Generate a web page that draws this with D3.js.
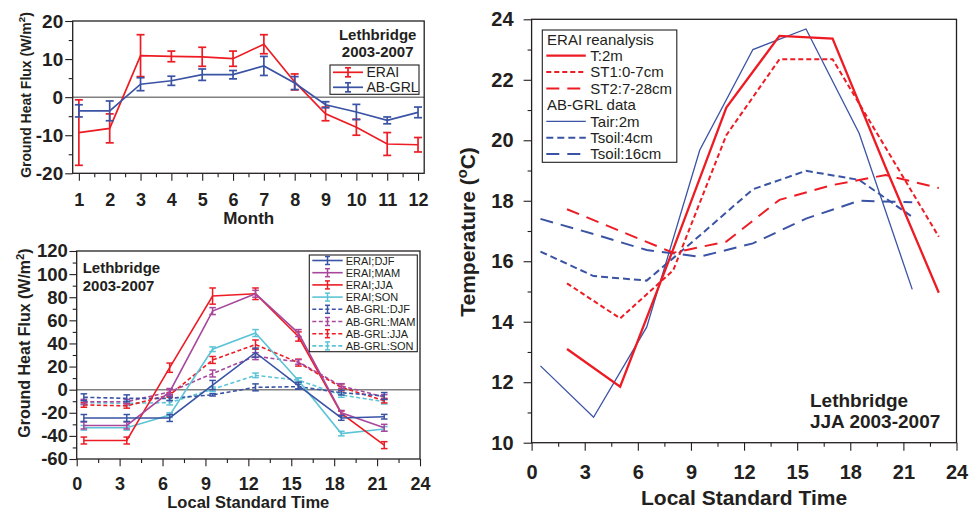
<!DOCTYPE html>
<html>
<head>
<meta charset="utf-8">
<script src="https://cdn.jsdelivr.net/npm/d3@7"></script>
<style>
    body { margin: 0; background: #fff; }
    svg { display: block; font-family: "Liberation Sans", Arial, sans-serif; }
    .axis line { stroke: #231f20; stroke-width: 1.1; }
    .axis path { display: none; }
    .axis text { font-weight: bold; fill: #231f20; font-family: "Liberation Sans", Arial, sans-serif; }
    .frame { fill: none; stroke: #231f20; stroke-width: 1.3; }
    .title { font-weight: bold; fill: #231f20; }
    .legend-box { fill: #fff; stroke: #231f20; stroke-width: 1.1; }
    .legend text { fill: #231f20; }
</style>
</head>
<body>
<svg id="chart" width="978" height="513"></svg>
<script>
// monthly ground heat flux, Lethbridge 2003-2007
var months      = [1, 2, 3, 4, 5, 6, 7, 8, 9, 10, 11, 12];
var monthMinor  = [1.5, 2.5, 3.5, 4.5, 5.5, 6.5, 7.5, 8.5, 9.5, 10.5, 11.5];
var fluxTicks   = [-20, -10, 0, 10, 20];
var fluxMinor   = [-15, -5, 5, 15];
var fluxErai    = [-9.3, -8.2, 10.9, 10.7, 10.6, 10.1, 13.9, 4.0, -4.4, -7.9, -12.3, -12.5];
var fluxEraiErr = [8.6, 3.8, 5.5, 1.4, 2.5, 2.0, 2.5, 2.1, 1.8, 2.1, 3.0, 1.9];
var fluxGrl     = [-3.6, -3.6, 3.4, 4.3, 5.9, 5.9, 8.2, 3.7, -2.0, -3.9, -6.1, -4.0];
var fluxGrlErr  = [1.6, 2.6, 1.7, 1.2, 1.5, 1.1, 2.5, 1.7, 0.8, 2.0, 0.9, 1.4];

// diurnal ground heat flux by season
var lstHours    = [0.5, 3.5, 6.5, 9.5, 12.5, 15.5, 18.5, 21.5];
var hourTicks   = [0, 3, 6, 9, 12, 15, 18, 21, 24];
var hourMinor   = [1.5, 4.5, 7.5, 10.5, 13.5, 16.5, 19.5, 22.5];
var diurnTicks  = [-60, -40, -20, 0, 20, 40, 60, 80, 100, 120];
var diurnMinor  = [-50, -30, -10, 10, 30, 50, 70, 90, 110];
var eraiDjf     = [-24.5, -24.5, -24.5, 4, 32, 3.5, -24.5, -23.4];
var eraiMam     = [-31, -31, -2, 68, 83, 49, -20, -33];
var eraiJja     = [-44, -44, 19, 81, 83, 46, -20.5, -48];
var eraiSon     = [-33, -33, -22, 35, 49, 8, -38, -34];
var grlDjf      = [-6.6, -7.5, -7.5, -4.5, 2, 2.6, -2.6, -5.5];
var grlMam      = [-10.4, -10.4, -2, 14, 29, 24, 3.2, -6.3];
var grlJja      = [-13.2, -14, -4.6, 25.7, 39, 23.4, 2, -9.5];
var grlSon      = [-11.2, -11.8, -11.2, 0.3, 12.4, 8.2, -4.6, -10.4];
var eraiDjfErr  = [3, 3, 3, 4, 4, 3, 2, 2];
var eraiMamErr  = [3, 3, 3, 3, 3, 3, 2, 3];
var eraiJjaErr  = [3, 3, 4, 7, 5, 4, 2, 3];
var eraiSonErr  = [2, 2, 2, 2, 3, 2, 2, 2];
var grlDjfErr   = [3, 3, 2, 1, 3, 2, 2, 3];
var grlMamErr   = [2, 2, 2, 3, 3, 2, 2, 2];
var grlJjaErr   = [2, 2, 2, 3, 4, 3, 3, 2];
var grlSonErr   = [2, 2, 2, 2, 2, 2, 2, 2];

// JJA diurnal temperature
var eraiHours   = [2, 5, 8, 11, 14, 17, 20, 23];
var grlHours    = [0.5, 3.5, 6.5, 9.5, 12.5, 15.5, 18.5, 21.5];
var tempTicks   = [10, 12, 14, 16, 18, 20, 22, 24];
var tempMinor   = [11, 13, 15, 17, 19, 21, 23];
var eraiT2m     = [13.1, 11.85, 16.4, 21.08, 23.45, 23.36, 19.1, 14.96];
var eraiSt1     = [15.27, 14.11, 15.7, 20.17, 22.68, 22.68, 19.75, 16.81];
var eraiSt2     = [17.72, 17.0, 16.28, 16.65, 18.03, 18.52, 18.85, 18.42];
var grlTair     = [12.54, 10.84, 13.82, 19.68, 23.0, 23.68, 20.23, 15.07];
var grlTsoil4   = [16.32, 15.51, 15.36, 16.85, 18.38, 18.99, 18.69, 17.47];
var grlTsoil16  = [17.40, 16.9, 16.37, 16.15, 16.59, 17.41, 18.0, 17.95];

var RED = '#ed1c24', BLUE = '#3a53a4', PURPLE = '#a8489d', CYAN = '#5cc4d6';

var svg = d3.select('#chart');
svg.append('rect').attr('width', 978).attr('height', 513).attr('fill', '#fff');

function plain(d) { return String(d); }

// frame + ticks for one panel
function drawAxes(g, x, y, o) {
    var w = x.range()[1] - x.range()[0],
        h = y.range()[0] - y.range()[1];

    var xa = g.append('g').attr('class', 'axis').attr('transform', 'translate(0,' + h + ')');
    xa.call(d3.axisBottom(x).tickValues(o.xTicks).tickSize(o.major).tickPadding(o.xPad).tickSizeOuter(0).tickFormat(plain));
    xa.selectAll('text').style('font-size', o.xFont + 'px');
    g.append('g').attr('class', 'axis').attr('transform', 'translate(0,' + h + ')')
        .call(d3.axisBottom(x).tickValues(o.xMinor).tickSize(o.minor).tickSizeOuter(0).tickFormat(''));

    var ya = g.append('g').attr('class', 'axis');
    ya.call(d3.axisLeft(y).tickValues(o.yTicks).tickSize(o.major).tickPadding(o.yPad).tickSizeOuter(0).tickFormat(plain));
    ya.selectAll('text').style('font-size', o.yFont + 'px');
    g.append('g').attr('class', 'axis')
        .call(d3.axisLeft(y).tickValues(o.yMinor).tickSize(o.minor).tickSizeOuter(0).tickFormat(''));

    g.append('rect').attr('class', 'frame').attr('width', w).attr('height', h);
}

function errorBars(g, x, y, xs, vals, errs, color, cap, width) {
    var bars = g.append('g').selectAll('g').data(vals).enter().append('g')
        .attr('stroke', color).attr('stroke-width', width);
    bars.append('line')
        .attr('x1', function(d, i) { return x(xs[i]); })
        .attr('x2', function(d, i) { return x(xs[i]); })
        .attr('y1', function(d, i) { return y(d + errs[i]); })
        .attr('y2', function(d, i) { return y(d - errs[i]); });
    [1, -1].forEach(function(s) {
        bars.append('line')
            .attr('x1', function(d, i) { return x(xs[i]) - cap; })
            .attr('x2', function(d, i) { return x(xs[i]) + cap; })
            .attr('y1', function(d, i) { return y(d + s * errs[i]); })
            .attr('y2', function(d, i) { return y(d + s * errs[i]); });
    });
}

function seriesLine(g, x, y, xs, vals, color, width, dash) {
    var line = d3.line().x(function(d, i) { return x(xs[i]); }).y(function(d) { return y(d); });
    g.append('path').datum(vals)
        .attr('d', line)
        .attr('fill', 'none')
        .attr('stroke', color)
        .attr('stroke-width', width)
        .attr('stroke-dasharray', dash || null);
}

function yTitle(g, tx, ty, size, before, sup, after) {
    var t = g.append('text').attr('class', 'title')
        .attr('transform', 'translate(' + tx + ',' + ty + ') rotate(-90)')
        .attr('text-anchor', 'middle')
        .style('font-size', size + 'px');
    t.append('tspan').text(before);
    t.append('tspan').attr('dy', -size * 0.4).style('font-size', (size * 0.7) + 'px').text(sup);
    t.append('tspan').attr('dy', size * 0.4).text(after);
}

// ---------- top left: monthly flux ----------
(function() {
    var x = d3.scaleLinear().domain([0.8, 12.2]).range([0, 351.5]),
        y = d3.scaleLinear().domain([-20, 20]).range([152.3, 0]);
    var g = svg.append('g').attr('transform', 'translate(72.7,21)');

    g.append('line').attr('x1', 0).attr('x2', 351.5).attr('y1', y(0)).attr('y2', y(0))
        .attr('stroke', '#808080').attr('stroke-width', 1.5);

    seriesLine(g, x, y, months, fluxErai, RED, 1.7);
    errorBars(g, x, y, months, fluxErai, fluxEraiErr, RED, 4, 1.7);
    seriesLine(g, x, y, months, fluxGrl, BLUE, 1.7);
    errorBars(g, x, y, months, fluxGrl, fluxGrlErr, BLUE, 4, 1.7);

    drawAxes(g, x, y, { xTicks: months, xMinor: monthMinor, yTicks: fluxTicks, yMinor: fluxMinor,
        major: 7.5, minor: 4, xPad: 12, yPad: 2, xFont: 18, yFont: 19 });

    g.append('text').attr('class', 'title').attr('x', 176).attr('y', 203)
        .attr('text-anchor', 'middle').style('font-size', '17px').text('Month');
    yTitle(svg, 31, 95, 14, 'Ground Heat Flux (W/m', '2', ')');

    g.append('text').attr('class', 'title').attr('x', 305).attr('y', 19)
        .attr('text-anchor', 'middle').style('font-size', '15px').text('Lethbridge');
    g.append('text').attr('class', 'title').attr('x', 305).attr('y', 35.5)
        .attr('text-anchor', 'middle').style('font-size', '15px').text('2003-2007');

    var lg = g.append('g').attr('class', 'legend').attr('transform', 'translate(257.3,44)');
    lg.append('rect').attr('class', 'legend-box').attr('width', 89).attr('height', 29.3);
    [['ERAI', RED], ['AB-GRL', BLUE]].forEach(function(e, i) {
        var cy = 7.3 + i * 15;
        lg.append('line').attr('x1', 3).attr('x2', 33).attr('y1', cy).attr('y2', cy)
            .attr('stroke', e[1]).attr('stroke-width', 1.7);
        lg.append('line').attr('x1', 18).attr('x2', 18).attr('y1', cy - 4.5).attr('y2', cy + 4.5)
            .attr('stroke', e[1]).attr('stroke-width', 1.7);
        lg.append('line').attr('x1', 15).attr('x2', 21).attr('y1', cy - 4.5).attr('y2', cy - 4.5)
            .attr('stroke', e[1]).attr('stroke-width', 1.7);
        lg.append('line').attr('x1', 15).attr('x2', 21).attr('y1', cy + 4.5).attr('y2', cy + 4.5)
            .attr('stroke', e[1]).attr('stroke-width', 1.7);
        lg.append('text').attr('x', 36.5).attr('y', cy + 5).style('font-size', '14px').text(e[0]);
    });
})();

// ---------- bottom left: diurnal flux by season ----------
(function() {
    var x = d3.scaleLinear().domain([0, 24]).range([0, 343.3]),
        y = d3.scaleLinear().domain([-60, 120]).range([208, 0]);
    var g = svg.append('g').attr('transform', 'translate(76.7,251)');

    g.append('line').attr('x1', 0).attr('x2', 343.3).attr('y1', y(0)).attr('y2', y(0))
        .attr('stroke', '#808080').attr('stroke-width', 1.5);

    var series = [
        { name: 'AB-GRL:SON', vals: grlSon,  errs: grlSonErr,  color: CYAN,   dash: '4,2.5' },
        { name: 'AB-GRL:JJA', vals: grlJja,  errs: grlJjaErr,  color: RED,    dash: '4,2.5' },
        { name: 'AB-GRL:MAM', vals: grlMam,  errs: grlMamErr,  color: PURPLE, dash: '4,2.5' },
        { name: 'AB-GRL:DJF', vals: grlDjf,  errs: grlDjfErr,  color: BLUE,   dash: '4,2.5' },
        { name: 'ERAI;SON',   vals: eraiSon, errs: eraiSonErr, color: CYAN,   dash: null },
        { name: 'ERAI;JJA',   vals: eraiJja, errs: eraiJjaErr, color: RED,    dash: null },
        { name: 'ERAI;MAM',   vals: eraiMam, errs: eraiMamErr, color: PURPLE, dash: null },
        { name: 'ERAI;DJF',   vals: eraiDjf, errs: eraiDjfErr, color: BLUE,   dash: null }
    ];
    series.forEach(function(s) {
        seriesLine(g, x, y, lstHours, s.vals, s.color, 1.6, s.dash);
        errorBars(g, x, y, lstHours, s.vals, s.errs, s.color, 3.3, 1.5);
    });

    drawAxes(g, x, y, { xTicks: hourTicks, xMinor: hourMinor, yTicks: diurnTicks, yMinor: diurnMinor,
        major: 7.3, minor: 4, xPad: 10.5, yPad: 1.5, xFont: 18, yFont: 18.5 });

    g.append('text').attr('class', 'title').attr('x', 171.6).attr('y', 257)
        .attr('text-anchor', 'middle').style('font-size', '16.5px').text('Local Standard Time');
    yTitle(svg, 30, 343, 16, 'Ground Heat Flux (W/m', '2', ')');

    g.append('text').attr('class', 'title').attr('x', 6).attr('y', 22.3)
        .style('font-size', '15px').text('Lethbridge');
    g.append('text').attr('class', 'title').attr('x', 6).attr('y', 39.7)
        .style('font-size', '15px').text('2003-2007');

    var lg = g.append('g').attr('class', 'legend').attr('transform', 'translate(232.6,4)');
    lg.append('rect').attr('class', 'legend-box').attr('width', 108).attr('height', 96.7);
    series.slice().reverse().forEach(function(s, i) {
        var cy = 5.5 + i * 12.2;
        lg.append('line').attr('x1', 3).attr('x2', 33.4).attr('y1', cy).attr('y2', cy)
            .attr('stroke', s.color).attr('stroke-width', 1.6).attr('stroke-dasharray', s.dash);
        lg.append('line').attr('x1', 18.2).attr('x2', 18.2).attr('y1', cy - 4).attr('y2', cy + 4)
            .attr('stroke', s.color).attr('stroke-width', 1.5);
        lg.append('line').attr('x1', 15.7).attr('x2', 20.7).attr('y1', cy - 4).attr('y2', cy - 4)
            .attr('stroke', s.color).attr('stroke-width', 1.5);
        lg.append('line').attr('x1', 15.7).attr('x2', 20.7).attr('y1', cy + 4).attr('y2', cy + 4)
            .attr('stroke', s.color).attr('stroke-width', 1.5);
        lg.append('text').attr('x', 36.4).attr('y', cy + 4).style('font-size', '11px').text(s.name);
    });
})();

// ---------- right: JJA temperatures ----------
(function() {
    var x = d3.scaleLinear().domain([0, 24]).range([0, 424.9]),
        y = d3.scaleLinear().domain([10, 24]).range([423.4, 0]);
    var g = svg.append('g').attr('transform', 'translate(531.6,19.3)');

    var series = [
        { name: 'Tsoil:16cm', xs: grlHours,  vals: grlTsoil16, color: BLUE, width: 2,   dash: '13,8' },
        { name: 'Tsoil:4cm',  xs: grlHours,  vals: grlTsoil4,  color: BLUE, width: 2,   dash: '7,4' },
        { name: 'Tair:2m',    xs: grlHours,  vals: grlTair,    color: BLUE, width: 1.3, dash: null },
        { name: 'ST2:7-28cm', xs: eraiHours, vals: eraiSt2,    color: RED,  width: 2,   dash: '13,8' },
        { name: 'ST1:0-7cm',  xs: eraiHours, vals: eraiSt1,    color: RED,  width: 2,   dash: '5,3' },
        { name: 'T:2m',       xs: eraiHours, vals: eraiT2m,    color: RED,  width: 2.3, dash: null }
    ];
    series.forEach(function(s) {
        seriesLine(g, x, y, s.xs, s.vals, s.color, s.width, s.dash);
    });

    drawAxes(g, x, y, { xTicks: hourTicks, xMinor: hourMinor, yTicks: tempTicks, yMinor: tempMinor,
        major: 8, minor: 4, xPad: 14.5, yPad: 10, xFont: 20, yFont: 20 });

    g.append('text').attr('class', 'title').attr('x', 212.5).attr('y', 486)
        .attr('text-anchor', 'middle').style('font-size', '21px').text('Local Standard Time');
    yTitle(svg, 475, 232, 21, 'Temperature (', 'o', 'C)');

    g.append('text').attr('class', 'title').attr('x', 278.4).attr('y', 388)
        .style('font-size', '19px').text('Lethbridge');
    g.append('text').attr('class', 'title').attr('x', 278.4).attr('y', 408.4)
        .style('font-size', '19px').text('JJA 2003-2007');

    var lg = g.append('g').attr('class', 'legend').attr('transform', 'translate(10.7,10.7)');
    lg.append('rect').attr('class', 'legend-box').attr('width', 134.5).attr('height', 132.3);
    var rows = [
        { head: 'ERAI reanalysis' },
        series[5], series[4], series[3],
        { head: 'AB-GRL data' },
        series[2], series[1], series[0]
    ];
    rows.forEach(function(r, i) {
        var cy = 9.3 + i * 16.4;
        if (r.head) {
            lg.append('text').attr('x', 4.8).attr('y', cy + 5.3).style('font-size', '15px').text(r.head);
            return;
        }
        lg.append('line').attr('x1', 4).attr('x2', 43.5).attr('y1', cy).attr('y2', cy)
            .attr('stroke', r.color).attr('stroke-width', r.width).attr('stroke-dasharray', r.dash);
        lg.append('text').attr('x', 48).attr('y', cy + 5.3).style('font-size', '15px').text(r.name);
    });
})();
</script>
</body>
</html>
